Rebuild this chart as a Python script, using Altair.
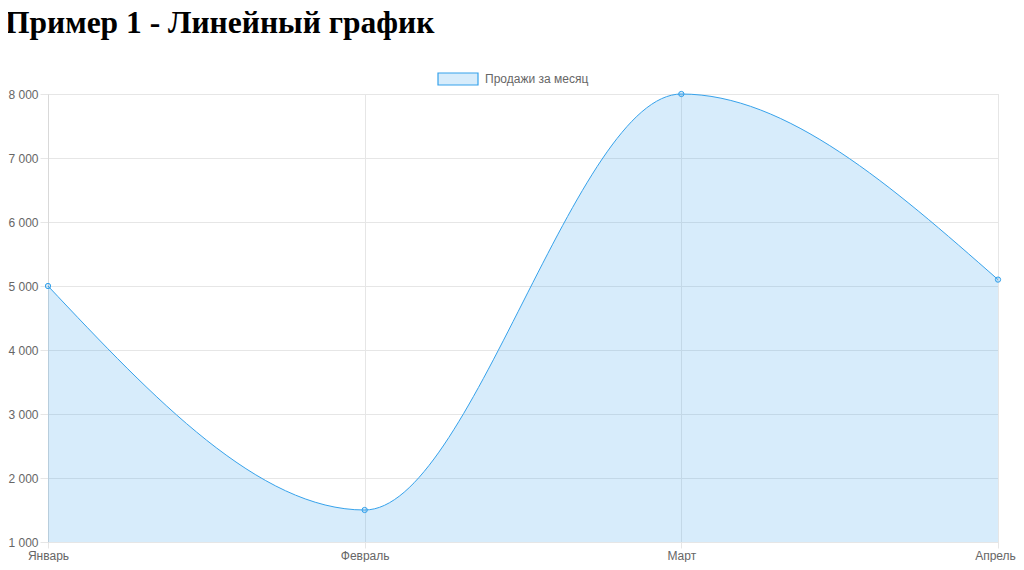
import altair as alt
import pandas as pd

months = ["Январь", "Февраль", "Март", "Апрель"]
sales = [5000, 1500, 8000, 5100]
series_name = "Продажи за месяц"
title_text = ["Пример 1 - Линейный график"]

df = pd.DataFrame({"month": months, "sales": sales, "series": [series_name] * len(months)})
title_df = pd.DataFrame({"t": title_text})

LINE = "#36a2eb"
FILL = "rgba(54,162,235,0.2)"
GRID = "#e6e6e6"
LABEL = "#666666"

x = alt.X("month:N", sort=months, title=None,
          scale=alt.Scale(type="point", padding=0),
          axis=alt.Axis(labelAngle=0, labelColor=LABEL, labelFont="Liberation Sans",
                        labelFontSize=12, labelPadding=2, grid=True, gridColor=GRID,
                        domain=False, tickColor=GRID, tickSize=6,
                        labelOffset={"condition": {"test": "datum.value === 'Апрель'", "value": -3},
                                     "value": 0}))
y = alt.Y("sales:Q", title=None,
          scale=alt.Scale(domain=[1000, 8000], zero=False, nice=False),
          axis=alt.Axis(values=list(range(1000, 8001, 1000)),
                        labelExpr="replace(format(datum.value, ','), ',', ' ')",
                        labelColor=LABEL, labelFont="Liberation Sans", labelFontSize=12,
                        labelPadding=2, grid=True, gridColor=GRID, domainColor="#d9d9d9",
                        tickColor=GRID, tickSize=8))

color = alt.Color("series:N", title=None,
                  scale=alt.Scale(range=[FILL]),
                  legend=alt.Legend(orient="none", legendX=389, legendY=-36, padding=0,
                                    symbolType="M-1,-0.3H1V0.3H-1Z", symbolSize=1600,
                                    symbolStrokeColor=LINE, symbolStrokeWidth=1.2,
                                    symbolFillColor=FILL, symbolOpacity=1,
                                    labelColor=LABEL, labelFont="Liberation Sans",
                                    labelFontSize=12, labelOffset=6))

base = alt.Chart(df)
area = base.mark_area(interpolate="monotone", opacity=1).encode(
    x=x, y=y, y2=alt.datum(1000), color=color)
line = base.mark_line(interpolate="monotone", color=LINE, strokeWidth=1).encode(
    x=x, y="sales:Q")
points = base.mark_point(filled=False, size=28, color=LINE, strokeWidth=1, fill=FILL, opacity=1).encode(
    x=x, y="sales:Q")
title = alt.Chart(title_df).mark_text(
    align="left", baseline="alphabetic", font="Liberation Serif", fontSize=31.5,
    fontWeight="bold", color="#000000"
).encode(x=alt.value(-43), y=alt.value(-61), text="t:N")

chart = (area + line + points + title).properties(
    width=950, height=448,
    autosize=alt.AutoSizeParams(type="none"),
    padding={"left": 40, "top": 86, "right": 18, "bottom": 20},
).configure_view(stroke=None).configure(background="white")

chart.save("out.html", embed_options={"renderer": "svg", "actions": False})
